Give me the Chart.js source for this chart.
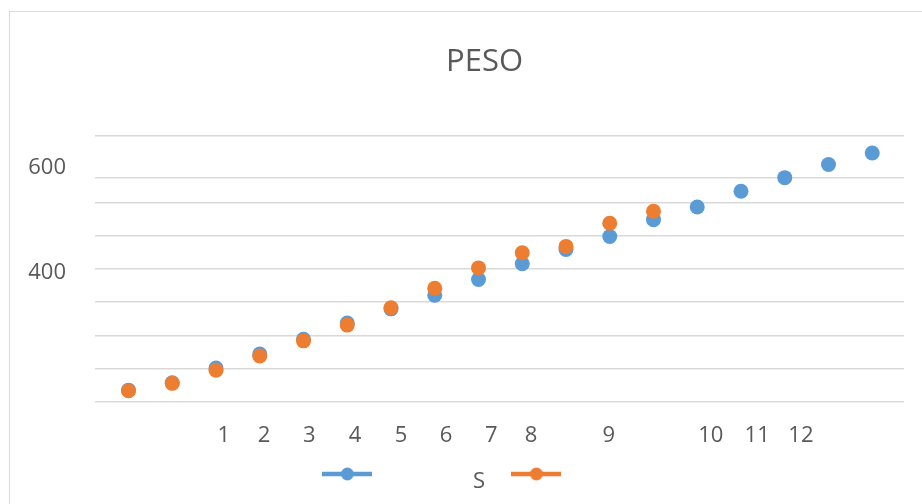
<!DOCTYPE html>
<html>
<head>
<meta charset="utf-8">
<script src="https://cdn.jsdelivr.net/npm/chart.js@4/dist/chart.umd.min.js"></script>
<style>
  html, body { margin: 0; padding: 0; background: #fff; overflow: hidden; }
  #frame { position: absolute; left: 9px; top: 11px; border-left: 1px solid #d9d9d9; border-top: 1px solid #d9d9d9; }
  #mycanvas { display: block; }
</style>
</head>
<body>
<div id="frame"><canvas id="mycanvas" width="934" height="492"></canvas></div>
<script>
var pointIndex = [1, 2, 3, 4, 5, 6, 7, 8, 9, 10, 11, 12, 13, 14, 15, 16, 17, 18];
var blueValues = [177, 191, 219, 246, 274, 305, 332, 358, 388, 418, 445, 470, 502, 526, 556, 582, 607, 629];
var orangeValues = [176, 190, 215, 242, 271, 301, 334, 371, 410, 439, 451, 495, 518];

var xTickPos = [3.18, 4.10, 5.13, 6.18, 7.23, 8.26, 9.29, 10.2, 11.98, 14.31, 15.37, 16.37];
var xTickLabels = ['1', '2', '3', '4', '5', '6', '7', '8', '9', '10', '11', '12'];

var yGridValues = [155, 218, 281, 345, 408, 471, 535, 581, 662];
var yLabelValues = [600, 400];
var yLabelTexts = ['600', '400'];

var legendTexts = ['', 'S', '             '];

var blue = '#5b9bd5';
var orange = '#ed7d31';
var textColor = '#595959';

function toPoints(values) {
	var pts = [];
	for (var i in values) {
		pts.push({x: pointIndex[i], y: values[i]});
	}
	return pts;
}

function legendMark(color) {
	var c = document.createElement('canvas');
	c.width = 50;
	c.height = 30;
	var g = c.getContext('2d');
	if (color) {
		g.strokeStyle = color;
		g.lineWidth = 4.5;
		g.beginPath();
		g.moveTo(0, 7);
		g.lineTo(50, 7);
		g.stroke();
		g.fillStyle = color;
		g.beginPath();
		g.arc(25, 7, 6.5, 0, Math.PI * 2);
		g.fill();
	}
	return c;
}

var marks = [legendMark(blue), legendMark(null), legendMark(orange)];

var chartdata = {
	datasets: [
		{
			label: 'Serie 1',
			data: toPoints(blueValues),
			backgroundColor: blue,
			pointRadius: 7.5,
			pointBorderWidth: 0,
			order: 1
		},
		{
			label: 'Serie 2',
			data: toPoints(orangeValues),
			backgroundColor: orange,
			pointRadius: 7.5,
			pointBorderWidth: 0,
			order: 0
		}
	]
};

var ctx = document.getElementById('mycanvas');

var scatter = new Chart(ctx, {
	type: 'scatter',
	data: chartdata,
	options: {
		responsive: false,
		animation: false,
		layout: { padding: { left: 15, right: 0, top: 0, bottom: 1 } },
		plugins: {
			tooltip: { enabled: false },
			title: {
				display: true,
				text: 'PESO',
				color: textColor,
				font: { family: 'Open Sans', size: 31, weight: 'normal' },
				padding: { top: 32, bottom: 54.5 }
			},
			legend: {
				position: 'bottom',
				labels: {
					usePointStyle: true,
					pointStyleWidth: 52.5,
					padding: 25,
					color: textColor,
					font: { family: 'Open Sans', size: 22 },
					generateLabels: function(chart) {
						var items = [];
						for (var i = 0; i < legendTexts.length; i++) {
							items.push({
								text: legendTexts[i],
								fillStyle: 'rgba(0,0,0,0)',
								strokeStyle: 'rgba(0,0,0,0)',
								lineWidth: 0,
								pointStyle: marks[i],
								fontColor: textColor,
								hidden: false
							});
						}
						return items;
					}
				}
			}
		},
		scales: {
			x: {
				type: 'linear',
				min: 0.234,
				max: 18.726,
				grid: { display: false, drawTicks: false },
				border: { display: false },
				afterBuildTicks: function(axis) {
					axis.ticks = xTickPos.map(function(v) { return {value: v}; });
				},
				afterFit: function(axis) { axis.height = 44.3; },
				ticks: {
					autoSkip: false,
					maxRotation: 0,
					padding: 21,
					color: textColor,
					font: { family: 'Open Sans', size: 22 },
					callback: function(value, index) { return xTickLabels[index]; }
				}
			},
			y: {
				min: 155,
				max: 662,
				border: { display: false },
				afterBuildTicks: function(axis) {
					axis.ticks = yGridValues.concat(yLabelValues).sort(function(a, b) { return a - b; })
						.map(function(v) { return {value: v}; });
				},
				afterFit: function(axis) { axis.width = 70; },
				grid: {
					drawTicks: false,
					lineWidth: 1.5,
					color: function(c) {
						return yGridValues.indexOf(c.tick.value) >= 0 ? '#d9d9d9' : 'rgba(0,0,0,0)';
					}
				},
				ticks: {
					autoSkip: false,
					padding: 29,
					color: textColor,
					font: { family: 'Open Sans', size: 22 },
					callback: function(value) {
						var k = yLabelValues.indexOf(value);
						return k >= 0 ? yLabelTexts[k] : '';
					}
				}
			},
			yRight: {
				position: 'right',
				grid: { display: false },
				border: { display: false },
				ticks: { display: false },
				afterFit: function(axis) { axis.width = 40; }
			}
		}
	}
});
</script>
</body>
</html>
